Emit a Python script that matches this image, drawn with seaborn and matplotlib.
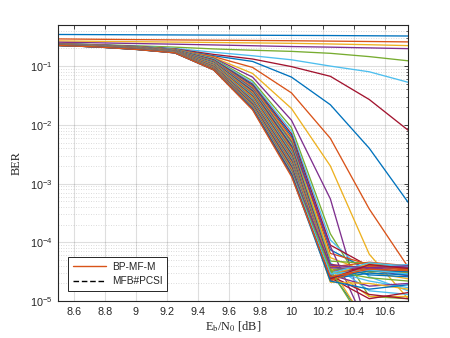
import numpy as np
import pandas as pd
import matplotlib
matplotlib.use("Agg")
import matplotlib.pyplot as plt
import seaborn as sns
from matplotlib.lines import Line2D
from matplotlib.ticker import LogLocator, NullFormatter, FixedLocator

# ---------------- data ----------------
ebn0 = [8.5, 8.75, 9.0, 9.25, 9.5, 9.75, 10.0, 10.25, 10.5, 10.75]

# upper (slowly decaying) curves
upper_curves = [
    [0.345, 0.343, 0.341, 0.339, 0.337, 0.335, 0.333, 0.331, 0.328, 0.325],
    [0.290, 0.286, 0.282, 0.279, 0.276, 0.273, 0.270, 0.266, 0.262, 0.258],
    [0.268, 0.264, 0.260, 0.256, 0.252, 0.248, 0.244, 0.238, 0.231, 0.223],
    [0.255, 0.249, 0.242, 0.236, 0.229, 0.222, 0.215, 0.210, 0.204, 0.198],
    [0.240, 0.232, 0.222, 0.210, 0.196, 0.186, 0.178, 0.165, 0.145, 0.123],
    [0.240, 0.230, 0.218, 0.200, 0.172, 0.150, 0.128, 0.100, 0.080, 0.053],
    [0.240, 0.230, 0.216, 0.196, 0.158, 0.132, 0.098, 0.067, 0.027, 8.1e-3],
    [0.240, 0.229, 0.214, 0.194, 0.150, 0.120, 0.065, 0.022, 4.0e-3, 4.8e-4],
    [0.238, 0.228, 0.213, 0.193, 0.145, 0.095, 0.035, 5.9e-3, 3.7e-4, 3.8e-5],
    [0.238, 0.227, 0.212, 0.192, 0.140, 0.075, 0.019, 2.0e-3, 6.3e-5, 1.1e-5],
    [0.237, 0.227, 0.212, 0.191, 0.137, 0.065, 0.012, 5.5e-4, 3.0e-6, 2.0e-6],
]

# dense bundle of curves (waterfall + error floor)
bundle_curves = [
    [0.236, 0.226, 0.211, 0.190, 0.134, 0.056, 9.0e-3, 1.4e-4, 1.2e-5, 1.1e-5],
    [0.235, 0.225, 0.210, 0.189, 0.131, 0.052, 7.8e-3, 1.1e-4, 2.6e-5, 1.5e-5],
    [0.235, 0.225, 0.209, 0.188, 0.128, 0.049, 7.0e-3, 9.0e-5, 3.9e-5, 4.1e-5],
    [0.234, 0.224, 0.208, 0.187, 0.126, 0.047, 6.4e-3, 7.5e-5, 3.3e-5, 2.9e-5],
    [0.234, 0.224, 0.207, 0.186, 0.124, 0.045, 5.9e-3, 6.5e-5, 4.2e-5, 3.6e-5],
    [0.233, 0.223, 0.207, 0.185, 0.122, 0.043, 5.5e-3, 5.5e-5, 3.1e-5, 2.4e-5],
    [0.233, 0.223, 0.206, 0.184, 0.121, 0.042, 5.2e-3, 8.6e-5, 3.0e-6, 2.0e-6],
    [0.232, 0.222, 0.206, 0.184, 0.119, 0.040, 4.9e-3, 4.8e-5, 4.4e-5, 3.8e-5],
    [0.232, 0.222, 0.205, 0.183, 0.118, 0.039, 4.6e-3, 4.5e-5, 1.5e-5, 1.3e-5],
    [0.231, 0.221, 0.205, 0.182, 0.116, 0.038, 4.4e-3, 4.2e-5, 3.6e-5, 3.2e-5],
    [0.231, 0.221, 0.204, 0.182, 0.115, 0.037, 4.2e-3, 4.0e-5, 2.8e-5, 2.6e-5],
    [0.230, 0.220, 0.204, 0.181, 0.113, 0.036, 4.0e-3, 3.8e-5, 4.6e-5, 4.0e-5],
    [0.230, 0.220, 0.203, 0.180, 0.112, 0.035, 3.8e-3, 3.6e-5, 1.2e-5, 1.2e-5],
    [0.230, 0.219, 0.203, 0.180, 0.110, 0.034, 3.65e-3, 3.5e-5, 3.4e-5, 2.7e-5],
    [0.229, 0.219, 0.202, 0.179, 0.109, 0.033, 3.5e-3, 3.4e-5, 4.0e-5, 3.4e-5],
    [0.229, 0.219, 0.202, 0.178, 0.108, 0.032, 3.35e-3, 3.3e-5, 2.2e-5, 1.7e-5],
    [0.229, 0.218, 0.201, 0.178, 0.106, 0.031, 3.2e-3, 3.2e-5, 3.7e-5, 3.9e-5],
    [0.228, 0.218, 0.201, 0.177, 0.105, 0.0305, 3.1e-3, 3.1e-5, 4.0e-6, 3.0e-6],
    [0.228, 0.217, 0.200, 0.177, 0.104, 0.030, 3.0e-3, 3.0e-5, 3.5e-5, 3.0e-5],
    [0.228, 0.217, 0.200, 0.176, 0.103, 0.029, 2.9e-3, 2.9e-5, 4.3e-5, 3.5e-5],
    [0.227, 0.217, 0.199, 0.176, 0.101, 0.028, 2.8e-3, 2.8e-5, 1.8e-5, 2.0e-5],
    [0.227, 0.216, 0.199, 0.175, 0.100, 0.0275, 2.7e-3, 2.7e-5, 3.2e-5, 3.1e-5],
    [0.227, 0.216, 0.198, 0.175, 0.099, 0.027, 2.6e-3, 2.6e-5, 3.8e-5, 4.2e-5],
    [0.227, 0.216, 0.198, 0.174, 0.098, 0.026, 2.5e-3, 2.5e-5, 1.1e-5, 1.4e-5],
    [0.226, 0.215, 0.197, 0.174, 0.097, 0.0255, 2.42e-3, 2.4e-5, 3.0e-5, 2.8e-5],
    [0.226, 0.215, 0.197, 0.173, 0.096, 0.025, 2.34e-3, 2.3e-5, 4.1e-5, 3.3e-5],
    [0.226, 0.215, 0.196, 0.173, 0.095, 0.0245, 2.26e-3, 3.9e-5, 3.5e-6, 2.5e-6],
    [0.226, 0.214, 0.196, 0.172, 0.094, 0.024, 2.18e-3, 3.7e-5, 3.6e-5, 3.7e-5],
    [0.226, 0.214, 0.196, 0.172, 0.093, 0.0235, 2.10e-3, 3.3e-5, 2.5e-5, 2.2e-5],
    [0.225, 0.214, 0.195, 0.171, 0.092, 0.023, 2.03e-3, 3.0e-5, 4.5e-5, 3.9e-5],
    [0.225, 0.213, 0.195, 0.171, 0.091, 0.0225, 1.96e-3, 2.7e-5, 1.3e-5, 1.1e-5],
    [0.225, 0.213, 0.195, 0.170, 0.090, 0.022, 1.89e-3, 2.5e-5, 3.3e-5, 3.2e-5],
    [0.225, 0.213, 0.194, 0.170, 0.090, 0.0215, 1.82e-3, 2.2e-5, 3.9e-5, 3.5e-5],
    [0.225, 0.213, 0.194, 0.170, 0.089, 0.021, 1.75e-3, 2.1e-5, 2.0e-5, 1.6e-5],
    [0.225, 0.212, 0.194, 0.169, 0.088, 0.0205, 1.68e-3, 4.1e-5, 3.7e-5, 4.0e-5],
    [0.225, 0.212, 0.193, 0.169, 0.088, 0.020, 1.61e-3, 3.4e-5, 3.0e-6, 4.0e-6],
    [0.225, 0.212, 0.193, 0.169, 0.087, 0.0195, 1.54e-3, 2.9e-5, 3.4e-5, 2.9e-5],
    [0.225, 0.212, 0.193, 0.168, 0.087, 0.019, 1.47e-3, 2.4e-5, 4.2e-5, 3.6e-5],
    [0.225, 0.212, 0.192, 0.168, 0.086, 0.0185, 1.40e-3, 2.2e-5, 1.6e-5, 1.9e-5],
    [0.225, 0.212, 0.192, 0.168, 0.086, 0.018, 1.32e-3, 2.6e-5, 3.5e-5, 3.3e-5],
]

x_ticks = [8.6, 8.8, 9.0, 9.2, 9.4, 9.6, 9.8, 10.0, 10.2, 10.4, 10.6]
x_tick_labels = ["8.6", "8.8", "9", "9.2", "9.4", "9.6", "9.8", "10", "10.2", "10.4", "10.6"]
legend_labels = ["BP-MF-M", "MFB#PCSI"]

matlab_colors = ["#0072BD", "#D95319", "#EDB120", "#7E2F8E",
                 "#77AC30", "#4DBEEE", "#A2142F"]

# ---------------- build long table ----------------
all_curves = upper_curves + bundle_curves
rows = []
for ci, curve in enumerate(all_curves):
    for xv, yv in zip(ebn0, curve):
        rows.append({"curve": ci, "ebn0": xv, "ber": yv})
df = pd.DataFrame(rows)
palette = {ci: matlab_colors[ci % 7] for ci in range(len(all_curves))}

# ---------------- plot ----------------
sns.set_theme(style="white")
plt.rcParams["font.family"] = ["Liberation Sans", "DejaVu Sans"]
plt.rcParams["mathtext.fontset"] = "stix"

fig = plt.figure(figsize=(4.5, 3.38), dpi=100)
ax = fig.add_axes([0.129, 0.109, 0.778, 0.817])

sns.lineplot(data=df, x="ebn0", y="ber", hue="curve", palette=palette,
             estimator=None, sort=False, legend=False, linewidth=0.95, ax=ax)

ax.set_yscale("log")
ax.set_xlim(8.5, 10.75)
ax.set_ylim(1e-5, 0.5)

ax.xaxis.set_major_locator(FixedLocator(x_ticks))
ax.set_xticklabels(x_tick_labels)
ax.yaxis.set_major_locator(LogLocator(base=10, numticks=10))
ax.yaxis.set_minor_locator(LogLocator(base=10, subs=np.arange(2, 10), numticks=20))
ax.yaxis.set_minor_formatter(NullFormatter())

ax.grid(True, which="major", color="#262626", alpha=0.15, linewidth=0.8, linestyle="-")
ax.grid(True, which="minor", axis="y", color="#262626", alpha=0.22, linewidth=0.6, linestyle=(0, (1, 2)))

ax.tick_params(axis="both", which="both", direction="in", top=True, right=True,
               colors="#262626", labelsize=7.8)
ax.tick_params(which="major", length=3, width=0.6)
ax.tick_params(which="minor", length=1.8, width=0.5)
ax.tick_params(axis="both", labelcolor="#262626", pad=4)
for sp in ax.spines.values():
    sp.set_color("#262626")
    sp.set_linewidth(0.8)

ax.set_xlabel(r"E$_\mathrm{b}$/N$_0$ [dB]", fontfamily="Liberation Serif",
              fontsize=8.8, color="#262626", labelpad=2)
ax.set_ylabel("BER", fontfamily="Liberation Serif", fontsize=8.8,
              color="#262626", labelpad=5)

handles = [Line2D([0], [0], color=matlab_colors[1], lw=1.0),
           Line2D([0], [0], color="black", lw=1.0, linestyle=(0, (4, 2)))]
leg = ax.legend(handles, legend_labels, loc="lower left",
                bbox_to_anchor=(0.029, 0.036), borderaxespad=0,
                fontsize=7.3, handlelength=3.2, frameon=True, fancybox=False,
                framealpha=1, edgecolor="#262626", borderpad=0.5,
                labelspacing=0.45, handletextpad=0.6)
leg.get_frame().set_linewidth(0.7)

fig.savefig("out.png", dpi=100, facecolor="white")
